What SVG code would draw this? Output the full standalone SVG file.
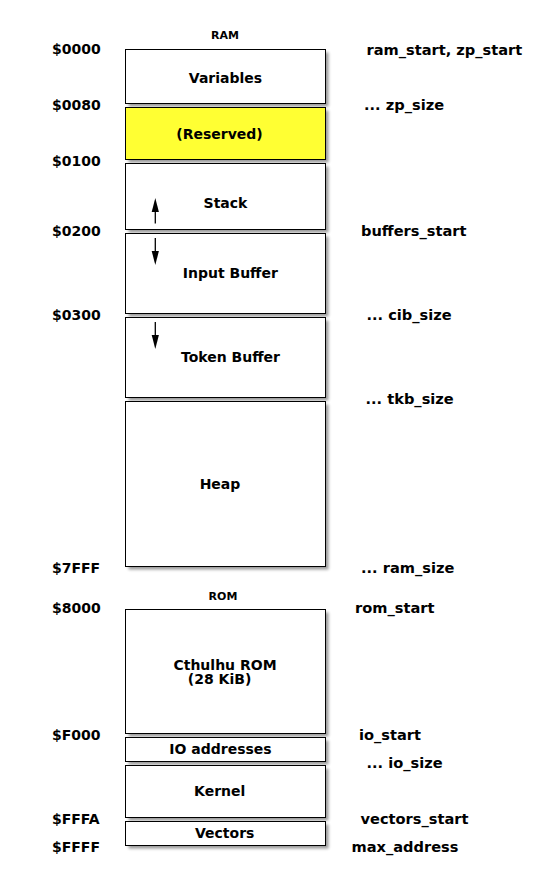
<svg xmlns="http://www.w3.org/2000/svg" width="560" height="882" viewBox="0 0 560 882">
<defs>
<filter id="blur" x="-10%" y="-10%" width="120%" height="130%">
<feGaussianBlur stdDeviation="1.5"/>
</filter>
<path id="down" d="M-3.6,0 L3.6,0 L0,14 Z" fill="#000"/>
<path id="up" d="M-3.6,0 L3.6,0 L0,-14 Z" fill="#000"/>
<style>
text{font-family:"DejaVu Sans","Liberation Sans",sans-serif;font-weight:bold;font-size:14px;fill:#000}
.t{text-anchor:middle}
.r{font-size:14.6px}
.title{font-size:11px;text-anchor:middle}
.box{fill:#fff;stroke:#000;stroke-width:1}
.res{fill:#ffff33}
.sh{fill:#000;opacity:0.4;filter:url(#blur)}
.arr{stroke:#000;stroke-width:1.3;fill:none}
</style>
</defs>
<rect width="560" height="882" fill="#fff"/>

<text class="title" x="225" y="39">RAM</text>
<text class="title" x="223" y="600">ROM</text>

<g id="addresses">
<text x="52" y="54">$0000</text>
<text x="52" y="110">$0080</text>
<text x="52" y="166">$0100</text>
<text x="52" y="236">$0200</text>
<text x="52" y="320">$0300</text>
<text x="52" y="573">$7FFF</text>
<text x="52" y="613">$8000</text>
<text x="52" y="739.5">$F000</text>
<text x="52" y="824">$FFFA</text>
<text x="52" y="852">$FFFF</text>
</g>

<g id="symbols" class="r">
<text class="r" x="366.5" y="54.5">ram_start, zp_start</text>
<text class="r" x="364" y="110">... zp_size</text>
<text class="r" x="361" y="236">buffers_start</text>
<text class="r" x="366.5" y="320">... cib_size</text>
<text class="r" x="365.5" y="404">... tkb_size</text>
<text class="r" x="361" y="573">... ram_size</text>
<text class="r" x="355" y="613">rom_start</text>
<text class="r" x="359" y="740">io_start</text>
<text class="r" x="366.5" y="768">... io_size</text>
<text class="r" x="360.5" y="824">vectors_start</text>
<text class="r" x="351.5" y="852">max_address</text>
</g>

<g id="variables">
<rect class="sh" x="128.5" y="52.5" width="200" height="54"/>
<rect class="box" x="125.5" y="49.5" width="200" height="54"/>
<text class="t" x="225.5" y="82.5">Variables</text>
</g>
<g id="reserved">
<rect class="sh" x="128.5" y="110.5" width="200" height="52"/>
<rect class="box res" x="125.5" y="107.5" width="200" height="52"/>
<text class="t" x="219.5" y="138.5">(Reserved)</text>
</g>
<g id="stack">
<rect class="sh" x="128.5" y="166.5" width="200" height="66"/>
<rect class="box" x="125.5" y="163.5" width="200" height="66"/>
<text class="t" x="225.5" y="208.3">Stack</text>
</g>
<g id="input-buffer">
<rect class="sh" x="128.5" y="236.5" width="200" height="80"/>
<rect class="box" x="125.5" y="233.5" width="200" height="80"/>
<text class="t" x="230.3" y="278.3">Input Buffer</text>
</g>
<g id="token-buffer">
<rect class="sh" x="128.5" y="320.5" width="200" height="80"/>
<rect class="box" x="125.5" y="317.5" width="200" height="80"/>
<text class="t" x="230.5" y="362.3">Token Buffer</text>
</g>
<g id="heap">
<rect class="sh" x="128.5" y="404.5" width="200" height="165"/>
<rect class="box" x="125.5" y="401.5" width="200" height="165"/>
<text class="t" x="220" y="489">Heap</text>
</g>
<g id="cthulhu-rom">
<rect class="sh" x="128.5" y="612.5" width="200" height="124"/>
<rect class="box" x="125.5" y="609.5" width="200" height="124"/>
<text class="t" x="225" y="669.5">Cthulhu ROM</text>
<text class="t" x="219.6" y="684">(28 KiB)</text>
</g>
<g id="io-addresses">
<rect class="sh" x="128.5" y="740.5" width="200" height="24"/>
<rect class="box" x="125.5" y="737.5" width="200" height="24"/>
<text class="t" x="220.5" y="754.3">IO addresses</text>
</g>
<g id="kernel">
<rect class="sh" x="128.5" y="768.5" width="200" height="52"/>
<rect class="box" x="125.5" y="765.5" width="200" height="52"/>
<text class="t" x="219.7" y="796">Kernel</text>
</g>
<g id="vectors">
<rect class="sh" x="128.5" y="824.5" width="200" height="24"/>
<rect class="box" x="125.5" y="821.5" width="200" height="24"/>
<text class="t" x="224.7" y="838.3">Vectors</text>
</g>

<g id="connectors">
<line class="arr" x1="155.3" y1="223.5" x2="155.3" y2="211"/>
<use href="#up" x="155.3" y="212"/>
<line class="arr" x1="155.3" y1="238" x2="155.3" y2="252"/>
<use href="#down" x="155.3" y="251"/>
<line class="arr" x1="155.3" y1="322" x2="155.3" y2="336"/>
<use href="#down" x="155.3" y="335"/>
</g>
</svg>
